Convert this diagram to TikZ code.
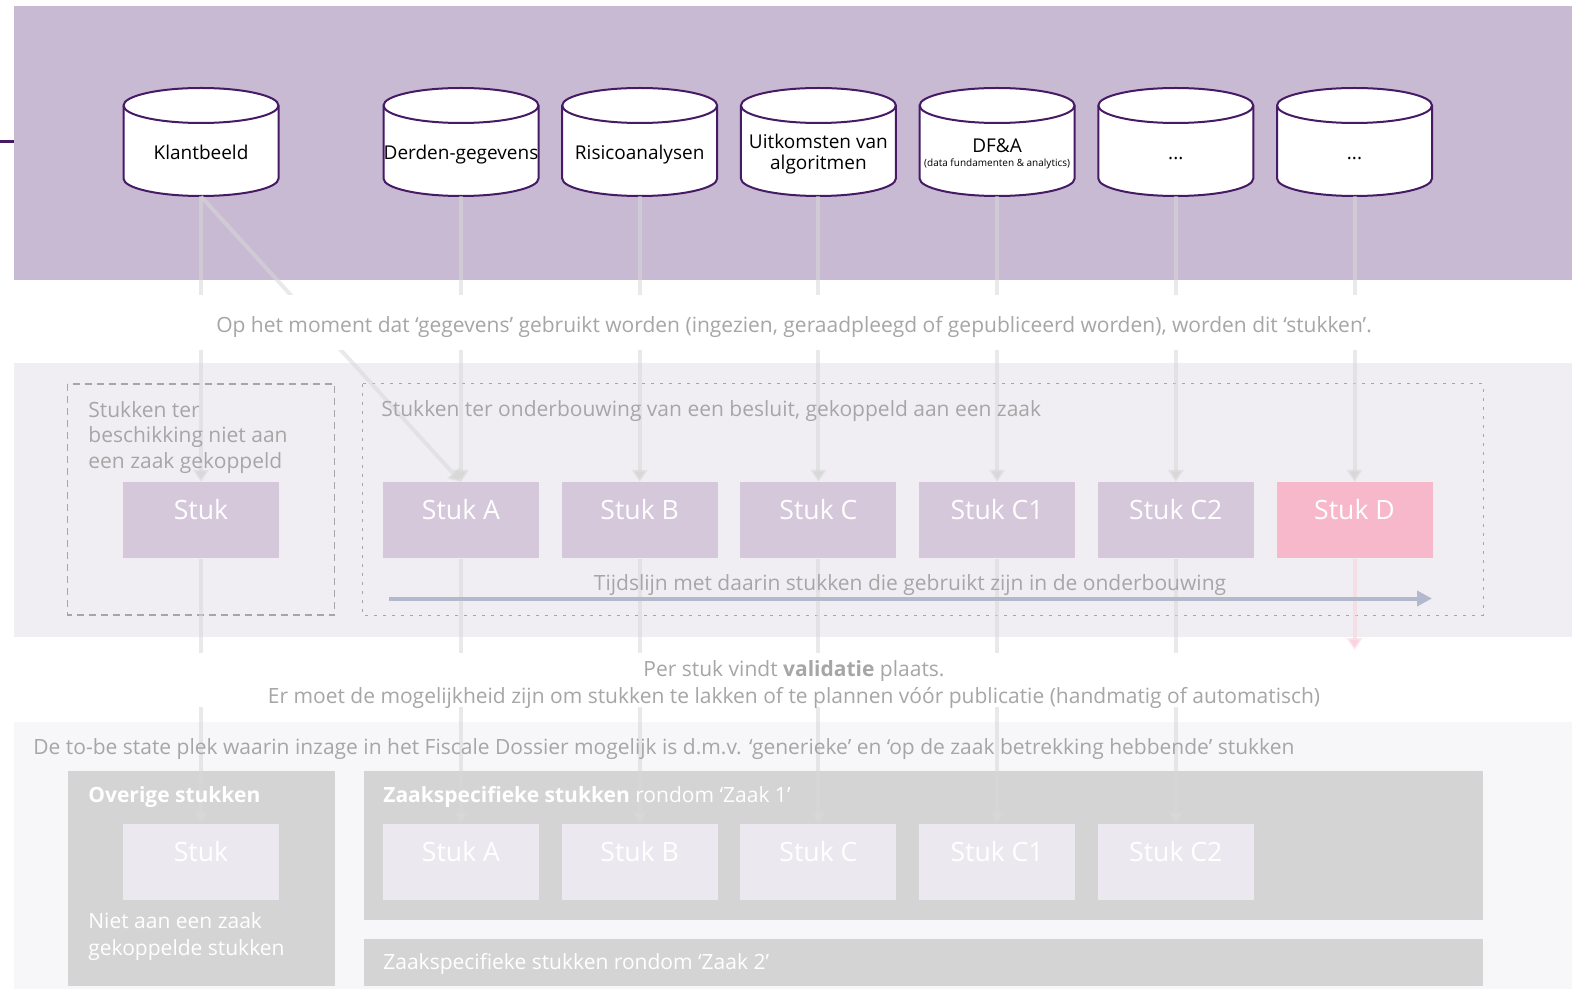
\documentclass[tikz,border=0pt]{standalone}
\usepackage{fontspec}
\setmainfont{Open Sans}
\usetikzlibrary{arrows.meta,positioning}
\pgfkeys{/pixels/.code=\tikzset{x={(0.5pt,0pt)},y={(0pt,-0.5pt)}}}
\definecolor{bandtop}{HTML}{C8BAD3}
\definecolor{bandmid}{HTML}{F0EEF3}
\definecolor{bandlow}{HTML}{F7F7F9}
\definecolor{boxgray}{HTML}{D4D4D4}
\definecolor{stukmid}{HTML}{D4C8DA}
\definecolor{stuklow}{HTML}{EBE9EF}
\definecolor{stukpink}{HTML}{F7B8CB}
\definecolor{notegray}{HTML}{A6A6A6}
\definecolor{cylline}{HTML}{461A64}
\definecolor{connline}{HTML}{D8D8D8}
\definecolor{timeline}{HTML}{B3B9CD}
\definecolor{pinkline}{HTML}{F9D3DD}

\begin{document}
\begin{tikzpicture}[/pixels,
  cyl/.style={draw=cylline,line width=1pt,fill=white},
  dbtext/.style={inner sep=0pt,minimum width=77.5pt,minimum height=41pt,text height=7pt,text depth=2pt,font=\fontsize{9.5}{10.5}\selectfont},
  dbtwo/.style={inner sep=0pt,align=center,font=\fontsize{9.5}{10.5}\selectfont},
  stuk/.style={anchor=north,fill=stukmid,text=white,inner sep=0pt,minimum width=78pt,text height=18.75pt,text depth=19.25pt,font=\fontsize{13.3}{15}\selectfont},
  note/.style={text=notegray,inner sep=0pt,font=\fontsize{10.5}{13.5}\selectfont},
  conn/.style={draw=connline,draw opacity=.55,line width=2pt,-{Triangle[length=6pt,width=7.5pt,fill=connline]}}]
\useasboundingbox (0,0) rectangle (1580,989);
\fill[white] (0,0) rectangle (1580,989);
\fill[bandtop] (14,6) rectangle (1572,280);
\fill[bandmid] (14,363) rectangle (1572,637);
\fill[bandlow] (14,722) rectangle (1572,989);
\draw[cylline,line width=1.5pt] (0,142) -- (14,142);
\fill[boxgray] (67.5,771) rectangle (334.5,985.5);
\fill[boxgray] (364,771) rectangle (1483,920);
\fill[boxgray] (364,939) rectangle (1483,985.5);
\draw[notegray,line width=.75pt,dash pattern=on 3.5pt off 2.5pt] (67.5,384) rectangle (334.5,615);
\draw[notegray,line width=.5pt,dash pattern=on 1.5pt off 3pt] (362,384) rectangle (1483,615);

\foreach \x in {201,461,639.7,818.4,997.1,1175.8,1354.5} {
  \draw[cyl] (\x-77.5,105.5) -- (\x-77.5,178.5) arc[start angle=180,end angle=360,x radius=38.75pt,y radius=8.75pt]
    -- (\x+77.5,105.5) arc[start angle=0,end angle=180,x radius=38.75pt,y radius=8.75pt] -- cycle;
  \draw[cyl,fill=none] (\x-77.5,105.5) arc[start angle=180,end angle=360,x radius=38.75pt,y radius=8.75pt];
}
\node[dbtext] (k0) at (201,155) {Klantbeeld};
\node[dbtext] (k1) at (461,155) {Derden-gegevens};
\node[dbtext] (k2) at (639.7,155) {Risicoanalysen};
\node[dbtext] (k3) at (818.4,155) {};
\node[dbtext] (k4) at (997.1,155) {};
\node[dbtext] (k5) at (1175.8,155) {...};
\node[dbtext] (k6) at (1354.5,155) {...};
\node[dbtwo] (k3t) at (818.4,154) {Uitkomsten van\\algoritmen};
\node[dbtwo] (k4t) at (997.1,154) {DF\&A\\[-3.5pt]{\fontsize{5}{6}\selectfont(data fundamenten \& analytics)}};

\node[stuk] (s0) at (201,482) {Stuk};
\node[stuk] (s1) at (461,482) {Stuk A};
\node[stuk] (s2) at (639.7,482) {Stuk B};
\node[stuk] (s3) at (818.4,482) {Stuk C};
\node[stuk] (s4) at (997.1,482) {Stuk C1};
\node[stuk] (s5) at (1175.8,482) {Stuk C2};
\node[stuk,fill=stukpink] (s6) at (1354.5,482) {Stuk D};

\node[stuk,fill=stuklow] (b0) at (201,824) {Stuk};
\node[stuk,fill=stuklow] (b1) at (461,824) {Stuk A};
\node[stuk,fill=stuklow] (b2) at (639.7,824) {Stuk B};
\node[stuk,fill=stuklow] (b3) at (818.4,824) {Stuk C};
\node[stuk,fill=stuklow] (b4) at (997.1,824) {Stuk C1};
\node[stuk,fill=stuklow] (b5) at (1175.8,824) {Stuk C2};
\coordinate (dend) at (1354.5,650);

\foreach \i in {0,...,6} \draw[conn] (k\i.south) -- (s\i.north);
\draw[conn] (k0.south) -- (s1.north);
\foreach \i in {0,...,5} \draw[conn] (s\i.south) -- (b\i.north);
\draw[conn,draw=pinkline,-{Triangle[length=6pt,width=7.5pt,fill=pinkline]}] (s6.south) -- (dend);

\fill[white] (0,295) rectangle (1580,350);
\fill[white] (0,653) rectangle (1580,707);

\coordinate (tl0) at (389,598.5);
\coordinate (tl1) at (1432,598.5);
\draw[timeline,line width=2pt,-{Triangle[length=7.5pt,width=7.5pt]}] (tl0) -- (tl1);
\node[note] (tltext) at (910,585.5) {Tijdslijn met daarin stukken die gebruikt zijn in de onderbouwing};

\node[note] (gegevens) at (794,326.5) {Op het moment dat ‘gegevens’ gebruikt worden (ingezien, geraadpleegd of gepubliceerd worden), worden dit ‘stukken’.};
\node[note,anchor=west,align=left,font=\fontsize{10.5}{12.75}\selectfont] (los) at (88,437.5) {Stukken ter\\beschikking niet aan\\een zaak gekoppeld};
\node[note,anchor=west] (besluit) at (381,411) {Stukken ter onderbouwing van een besluit, gekoppeld aan een zaak};
\node[note,align=center] (validatie) at (794,685) {Per stuk vindt \textbf{validatie} plaats.\\Er moet de mogelijkheid zijn om stukken te lakken of te plannen vóór publicatie (handmatig of automatisch)};
\node[note,anchor=west] (tobe) at (33,748.7) {De to-be state plek waarin inzage in het Fiscale Dossier mogelijk is d.m.v. ‘generieke’ en ‘op de zaak betrekking hebbende’ stukken};
\node[note,anchor=west,text=white] (overig) at (88,797) {\textbf{Overige stukken}};
\node[note,anchor=west,text=white] (zaak1) at (383,797) {\textbf{Zaakspecifieke stukken} rondom ‘Zaak 1’};
\node[note,anchor=west,align=left,text=white] (nietaan) at (88,937) {Niet aan een zaak\\gekoppelde stukken};
\node[note,anchor=west,text=white] (zaak2) at (383,964) {Zaakspecifieke stukken rondom ‘Zaak 2’};
\end{tikzpicture}
\end{document}
